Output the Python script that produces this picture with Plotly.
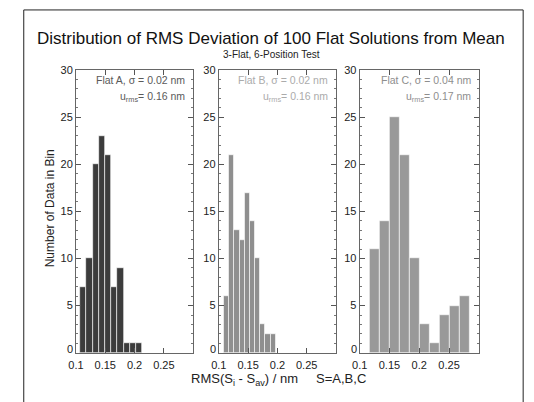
import plotly.graph_objects as go

# ---- data ----
counts_a = [7, 10, 20, 23, 21, 7, 9, 1, 1, 1]
counts_b = [6, 21, 13, 12, 17, 14, 10, 3, 2, 2]
counts_c = [11, 14, 25, 21, 10, 3, 1, 4, 5, 6]
bin_start = {"A": 0.107, "B": 0.1088, "C": 0.1173}
bin_width = {"A": 0.0106, "B": 0.0088, "C": 0.0167}
sigma = {"A": "0.02", "B": "0.02", "C": "0.04"}
urms = {"A": "0.16", "B": "0.16", "C": "0.17"}
x_ticks = [0.1, 0.15, 0.2, 0.25]
x_tick_labels = ["0.1", "0.15", "0.2", "0.25"]
y_ticks = [5, 10, 15, 20, 25, 30]
y_zero_label = "0"

W, H = 534, 402
bar_colors = {"A": "#3c3c3c", "B": "#8f8f8f", "C": "#999999"}
text_colors = {"A": "#5a5a5a", "B": "#ababab", "C": "#8e8e8e"}
panels_px = {"A": (69, 188), "B": (214, 333), "C": (357, 478)}
y_top_px, y_bot_px = 65, 352
FONT = "Liberation Sans, Arial"

fig = go.Figure()
data = {"A": counts_a, "B": counts_b, "C": counts_c}
for i, key in enumerate(["A", "B", "C"]):
    n = i + 1
    xa = "x" if n == 1 else f"x{n}"
    ya = "y" if n == 1 else f"y{n}"
    xs = [bin_start[key] + bin_width[key] * (k + 0.5) for k in range(len(data[key]))]
    fig.add_trace(go.Bar(
        x=xs, y=data[key], width=bin_width[key],
        marker=dict(color=bar_colors[key], line=dict(color="white", width=0.6)),
        xaxis=xa, yaxis=ya, showlegend=False, hoverinfo="skip"))
    x0, x1 = panels_px[key]
    axis_common = dict(showgrid=False, zeroline=False, showline=True, linecolor="#666",
                       linewidth=1, mirror="ticks", ticks="inside",
                       tickfont=dict(family=FONT, size=11, color="#222"),
                       tickcolor="#555")
    fig.update_layout(**{
        ("xaxis" if n == 1 else f"xaxis{n}"): dict(
            domain=[x0 / W, x1 / W], range=[0.1, 0.3],
            tickvals=x_ticks, ticktext=x_tick_labels, ticklen=5,
            ticklabelstandoff=2, anchor=ya, **axis_common),
        ("yaxis" if n == 1 else f"yaxis{n}"): dict(
            domain=[1 - y_bot_px / H, 1 - y_top_px / H], range=[0, 30],
            tickvals=y_ticks, ticklen=5,
            minor=dict(dtick=1, ticks="inside", ticklen=2, tickcolor="#777"),
            anchor=xa, **axis_common),
    })
    # the "0" tick label sits slightly raised above the x tick labels
    fig.add_annotation(x=0.1, y=0, xref=xa, yref=ya, text=y_zero_label,
                       showarrow=False, xanchor="right", yanchor="middle",
                       xshift=-1, yshift=4,
                       font=dict(family=FONT, size=11, color="#222"))
    fig.add_annotation(x=(x1 - 6) / W, y=1 - 75 / H, xref="paper", yref="paper",
                       text=f"Flat {key}, σ = {sigma[key]} nm", showarrow=False,
                       xanchor="right", yanchor="middle",
                       font=dict(family=FONT, size=10.5, color=text_colors[key]))
    fig.add_annotation(x=(x1 - 6) / W, y=1 - 92 / H, xref="paper", yref="paper",
                       text=f"u<sub>rms</sub>= {urms[key]} nm", showarrow=False,
                       xanchor="right", yanchor="middle",
                       font=dict(family=FONT, size=10.5, color=text_colors[key]))

# titles
fig.add_annotation(x=267 / W, y=1 - 33 / H, xref="paper", yref="paper",
                   text="Distribution of RMS Deviation of 100 Flat Solutions from Mean",
                   showarrow=False, xanchor="center", yanchor="middle",
                   font=dict(family=FONT, size=17, color="#111"))
fig.add_annotation(x=267 / W, y=1 - 49 / H, xref="paper", yref="paper",
                   text="3-Flat, 6-Position Test",
                   showarrow=False, xanchor="center", yanchor="middle",
                   font=dict(family=FONT, size=10, color="#222"))
fig.add_annotation(x=275 / W, y=1 - 379 / H, xref="paper", yref="paper",
                   text="RMS(S<sub>i</sub> - S<sub>av</sub>) / nm     S=A,B,C",
                   showarrow=False, xanchor="center", yanchor="middle",
                   font=dict(family=FONT, size=13, color="#222"))
fig.add_annotation(x=43 / W, y=1 - 205 / H, xref="paper", yref="paper",
                   text="Number of Data in Bin", textangle=-90,
                   showarrow=False, xanchor="center", yanchor="middle",
                   font=dict(family=FONT, size=12, color="#222"))

# outer frame
fig.add_shape(type="rect", xref="paper", yref="paper",
              x0=16 / W, x1=523 / W, y0=-0.05, y1=1 - 4 / H,
              line=dict(color="#222", width=1))

fig.update_layout(width=W, height=H, margin=dict(l=0, r=0, t=0, b=0),
                  paper_bgcolor="white", plot_bgcolor="white", bargap=0)

fig.write_html("out.html")
